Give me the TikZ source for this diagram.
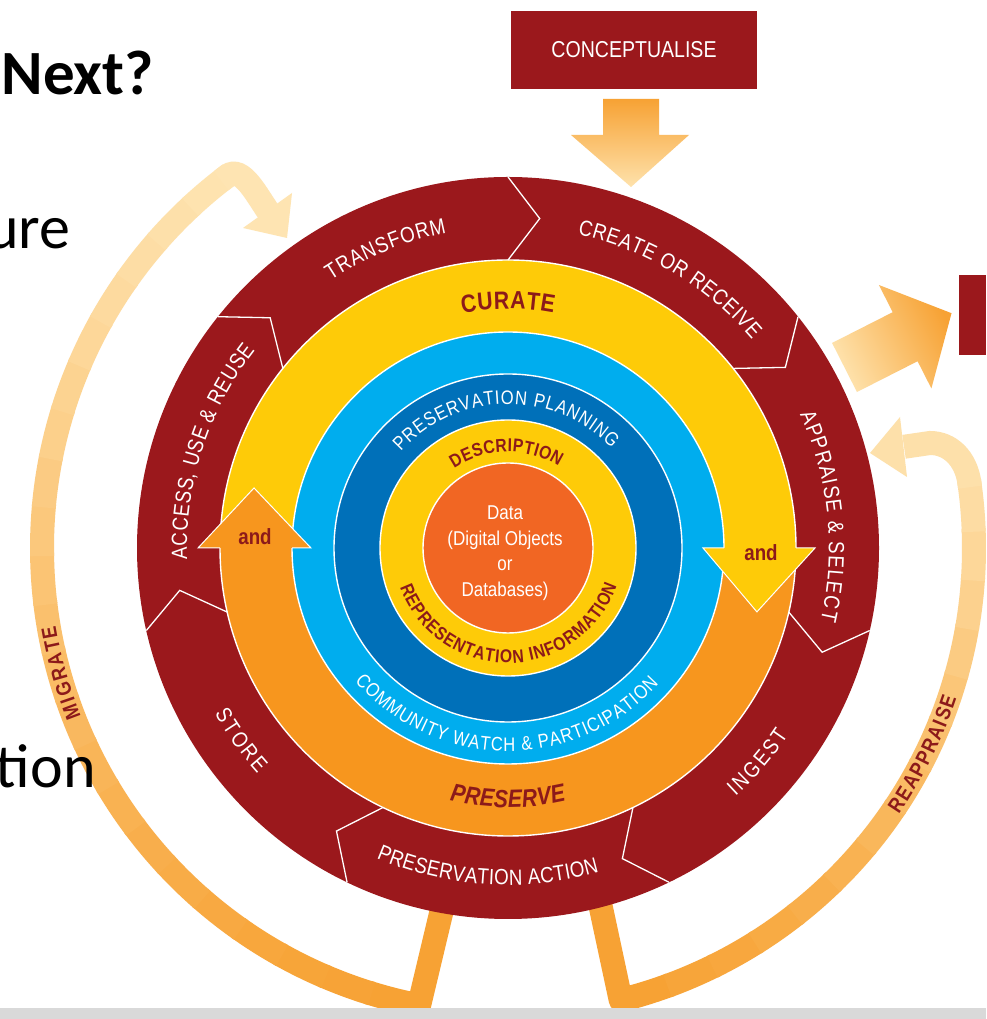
\documentclass[tikz,border=0pt]{standalone}
\usepackage{fontspec}
\setmainfont{Liberation Sans}
\newfontfamily\cond[FakeStretch=0.85]{Liberation Sans}
\newfontfamily\calib{Carlito}
\usetikzlibrary{decorations.text}
\definecolor{dccred}{RGB}{155,24,28}
\definecolor{dccyel}{RGB}{254,203,8}
\definecolor{dccora}{RGB}{247,150,30}
\definecolor{dcclblue}{RGB}{0,173,238}
\definecolor{dccdblue}{RGB}{0,112,185}
\definecolor{dccdata}{RGB}{241,102,35}
\definecolor{dcctext}{RGB}{140,26,26}
\definecolor{arrO}{RGB}{247,162,52}
\definecolor{arrP}{RGB}{254,226,172}
\definecolor{bandO}{RGB}{247,162,52}
\definecolor{bandP}{RGB}{254,228,178}
\definecolor{slidegray}{RGB}{217,217,217}
\newcommand\ringfont{\color{white}\cond\fontsize{22}{22}\selectfont}
\newcommand\curfont{\color{dcctext}\cond\bfseries\fontsize{25}{25}\selectfont}
\newcommand\presfont{\color{dcctext}\cond\bfseries\itshape\fontsize{25}{25}\selectfont}
\newcommand\bluefont{\color{white}\cond\fontsize{19.5}{19.5}\selectfont}
\newcommand\descfont{\color{dcctext}\cond\bfseries\fontsize{18.5}{18.5}\selectfont}
\newcommand\loopfont{\color{dcctext}\cond\bfseries\fontsize{21}{21}\selectfont}
\newcommand\arclabel[5]{%
  \path[decorate,decoration={text along path,text align={fit to path},text={|#4|#5}}]
    ([shift={(#2:#1)}]C) arc[start angle=#2,end angle=#3,radius=#1];}
\begin{document}
\begin{tikzpicture}[x=1pt,y=1pt,
  band/.style={line width=24pt, line cap=butt},
  chev/.style={white, line width=1.3pt, line join=miter},
  sep/.style={white, line width=1.4pt},
  arrowedge/.style={white, line width=1pt}]
\useasboundingbox (0,0) rectangle (986,1019);
\fill[white] (0,0) rectangle (986,1019);
\coordinate (C) at (508,471);

% ---- MIGRATE loop
\draw[band, bandO, line join=round] (449,139) -- ([shift={(259:466)}]C) arc[start angle=259,end angle=252.6,radius=466];
\foreach \a in {253,247,...,133}{
  \pgfmathtruncatemacro\p{max(0,min(100,(378-466*sin(\a-3))/8.3))}
  \draw[band, bandO!\p!bandP] ([shift={(\a:466)}]C) arc[start angle=\a,end angle=\a-6.4,radius=466];
}
\draw[band, bandP] ([shift={(128:466)}]C) arc[start angle=128,end angle=127,radius=466]
   .. controls (242,854) and (257.1,823.2) .. (268.7,806.9);
\fill[bandP] (292,826) -- (287,781) -- (243,791) -- cycle;

% ---- REAPPRAISE loop
\draw[band, bandO, line join=round] (595,139) -- ([shift={(-76:466)}]C) arc[start angle=-76,end angle=-69.6,radius=466];
\foreach \a in {-70,-64,...,2}{
  \pgfmathtruncatemacro\p{max(0,min(100,(108-466*sin(\a+3))/5.6))}
  \draw[band, bandO!\p!bandP] ([shift={(\a:466)}]C) arc[start angle=\a,end angle=\a+6.4,radius=466];
}
\draw[band, bandO!6!bandP] ([shift={(7.5:466)}]C) arc[start angle=7.5,end angle=8,radius=466]
   .. controls (966,560.6) and (950,576) .. (930,576) -- (904,572.2);
\fill[bandO!6!bandP] (900,602) -- (870,566) -- (907,542) -- cycle;

% ---- CONCEPTUALISE and arrows
\node[name=concept, fill=dccred, minimum width=246pt, minimum height=78pt, inner sep=0pt,
      text=white, font=\cond\fontsize{23}{23}\selectfont] at (634,969) {CONCEPTUALISE};
\shade[top color=arrO, bottom color=arrP] (603,920) -- (659,920) -- (659,884) -- (689,884)
   -- (631,832) -- (571,884) -- (603,884) -- cycle;
\fill[dccred] (959,664) rectangle (986,744);
\begin{scope}[shift={(844.5,651.5)}, rotate=26.9]
\shade[top color=arrO, bottom color=arrP, shading angle=-63.1] (0,-27.5) -- (68,-27.5) -- (68,-58)
   -- (120,0) -- (68,58) -- (68,27.5) -- (0,27.5) -- cycle;
\end{scope}

% ---- rings
\fill[dccred] (C) circle[radius=371];
\fill[dccora] (C) circle[radius=288];
\fill[dccyel] ([shift={(0:288)}]C) arc[start angle=0,end angle=180,radius=288]
   -- ([shift={(180:216)}]C) arc[start angle=180,end angle=0,radius=216] -- cycle;
\fill[dcclblue] (C) circle[radius=216];
\fill[dccdblue] (C) circle[radius=174];
\fill[dccyel] (C) circle[radius=128];
\fill[dccdata] (C) circle[radius=85];
\foreach \r in {288,216,174,128,85} \draw[sep] (C) circle[radius=\r];

% chevron separators of the outer ring
\foreach \b in {90,38.571,-12.857,-64.286,-115.714,-167.143,141.429}
  \draw[chev] ([shift={(\b:371)}]C) -- ([shift={({\b-5.5}:331)}]C) -- ([shift={(\b:288)}]C);

% "and" arrowheads
\fill[dccora] ([shift={(180:310)}]C) -- ([shift={(166.7:261)}]C) -- ([shift={(180:197)}]C) -- cycle;
\draw[arrowedge] ([shift={(180:288)}]C) -- ([shift={(180:310)}]C) -- ([shift={(166.7:261)}]C)
   -- ([shift={(180:197)}]C) -- ([shift={(180:216)}]C);
\fill[dccyel] ([shift={(0:307)}]C) -- ([shift={(-14.4:257)}]C) -- ([shift={(0:195)}]C) -- cycle;
\draw[arrowedge] ([shift={(0:288)}]C) -- ([shift={(0:307)}]C) -- ([shift={(-14.4:257)}]C)
   -- ([shift={(0:195)}]C) -- ([shift={(0:216)}]C);
\node[name=andL, text=dcctext, font=\cond\bfseries\fontsize{22}{22}\selectfont] at (255,482) {and};
\node[name=andR, text=dcctext, font=\cond\bfseries\fontsize{22}{22}\selectfont] at (761,466) {and};

% ---- outer ring labels
\arclabel{321}{123.5}{101}{\ringfont}{TRANSFORM}
\arclabel{321}{77.5}{40.5}{\ringfont}{CREATE OR RECEIVE}
\arclabel{321}{24.6}{-13}{\ringfont}{APPRAISE {\&} SELECT}
\arclabel{337}{-47.5}{-33.7}{\ringfont}{INGEST}
\arclabel{337}{247}{285.7}{\ringfont}{PRESERVATION ACTION}
\arclabel{337}{209.5}{222}{\ringfont}{STORE}
\arclabel{321}{182}{142}{\ringfont}{ACCESS, USE {\&} REUSE}

% ---- inner labels
\arclabel{239}{101}{79}{\curfont}{CURATE}
\arclabel{259.5}{257}{283}{\presfont}{PRESERVE}
\arclabel{203}{221}{318}{\bluefont}{COMMUNITY WATCH {\&} PARTICIPATION}
\arclabel{144}{138}{44}{\bluefont}{PRESERVATION PLANNING}
\arclabel{96}{124}{58}{\descfont}{DESCRIPTION}
\arclabel{115}{200}{341}{\descfont}{REPRESENTATION INFORMATION}
\node[name=data, align=center, text=white, font=\cond\fontsize{20}{25.5}\selectfont] at (505,466)
   {Data\\(Digital Objects\\or\\Databases)};

% ---- loop labels
\arclabel{459}{201.5}{189.7}{\loopfont}{MIGRATE}
\arclabel{473}{-34.3}{-18.5}{\loopfont}{REAPPRAISE}

% ---- slide text
\node[name=t1, anchor=base east, inner sep=0pt, font=\calib\bfseries\fontsize{63}{63}\selectfont] at (154,924) {Next?};
\node[name=t2, anchor=base east, inner sep=0pt, font=\calib\fontsize{62}{62}\selectfont] at (70.5,770) {ure};
\node[name=t3, anchor=base east, inner sep=0pt, font=\calib\fontsize{62}{62}\selectfont] at (96,231) {tion};
\fill[slidegray] (0,0) rectangle (986,11);
\end{tikzpicture}
\end{document}
